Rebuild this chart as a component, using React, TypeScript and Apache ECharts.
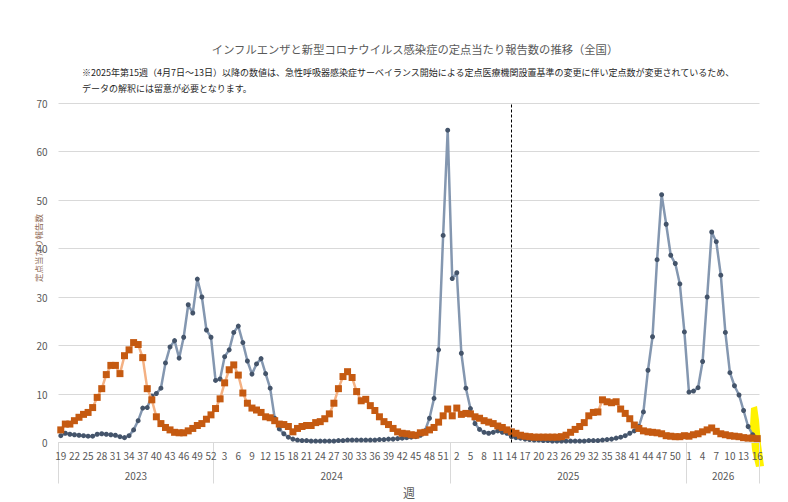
import React, { useEffect, useRef } from 'react';
import * as echarts from 'echarts';

// ---- data ----
const years = ['2023', '2024', '2025', '2026'];
const firstWeek = [19, 1, 1, 1];
const lastWeek = [52, 52, 52, 16];

// インフルエンザ (定点当たり報告数)
const influenza: (number | null)[] = [
  1.4, 1.9, 1.7, 1.6, 1.5, 1.4, 1.3, 1.3, 1.7, 1.8, 1.7, 1.6, 1.5, 1.2, 1.0, 1.4, 2.6, 4.5, 7.1, 7.2,
  9.6, 10.1, 11.2, 16.4, 19.7, 21.0, 17.4, 21.7, 28.4, 26.7, 33.7, 30.0, 23.2, 21.7,
  12.8, 13.1, 17.7, 19.1, 22.7, 24.0, 20.6, 16.8, 14.1, 16.2, 17.3, 14.2, 11.2, 5.0, 2.8, 1.8,
  1.1, 0.7, 0.5, 0.4, 0.4, 0.3, 0.3, 0.3, 0.3, 0.3, 0.3, 0.4, 0.4, 0.5, 0.5, 0.5, 0.5, 0.5,
  0.5, 0.5, 0.6, 0.6, 0.7, 0.7, 0.8, 0.9, 1.0, 1.1, 1.2, 1.5, 2.4, 5.0, 9.1, 19.1, 42.7, 64.4,
  33.8, 35.0, 18.4, 11.2, 7.0, 3.9, 2.7, 2.1, 1.9, 2.1, 2.4, 2.1, 1.9, 1.2, 1.0, 0.9, 0.7, 0.6,
  0.5, 0.5, 0.4, 0.4, 0.3, 0.3, 0.3, 0.3, 0.3, 0.3, 0.3, 0.3, 0.4, 0.4, 0.4, 0.5, 0.6, 0.7,
  0.9, 1.1, 1.4, 1.9, 2.4, 3.3, 6.3, 14.9, 21.8, 37.7, 51.1, 45.0, 38.6, 36.9, 32.7, 22.8,
  10.4, 10.6, 11.3, 16.7, 30.0, 43.4, 41.4, 34.5, 22.7, 14.4, 11.7, 9.8, 6.6, 3.3, 1.6, null,
];

// 新型コロナウイルス感染症 (定点当たり報告数)
const covid: number[] = [
  2.6, 3.8, 3.8, 4.5, 5.2, 5.8, 6.2, 7.2, 9.3, 11.1, 14.0, 15.9, 15.9, 14.2, 17.9, 19.1, 20.6, 20.2,
  17.5, 11.1, 8.8, 5.3, 3.9, 3.1, 2.6, 2.1, 2.0, 2.0, 2.4, 2.9, 3.5, 3.9, 4.8, 5.7,
  7.0, 9.0, 12.3, 15.0, 16.0, 13.9, 10.2, 8.1, 7.1, 6.7, 6.2, 5.3, 5.1, 4.5, 3.8, 3.7, 3.3, 2.2,
  2.9, 3.3, 3.5, 3.5, 4.1, 4.3, 4.9, 5.9, 8.1, 11.1, 13.6, 14.6, 13.4, 10.5, 8.6, 8.9, 7.6, 6.6,
  5.3, 4.3, 3.7, 2.9, 2.2, 1.9, 1.8, 1.6, 1.5, 2.0, 2.1, 2.6, 3.1, 4.2, 5.5, 6.9,
  5.5, 7.1, 5.8, 6.0, 5.9, 5.3, 5.0, 4.5, 4.2, 3.9, 3.4, 3.1, 2.6, 2.2, 1.9, 1.5, 1.3, 1.2,
  1.1, 1.1, 1.1, 1.1, 1.1, 1.1, 1.2, 1.5, 2.1, 2.7, 3.3, 4.1, 5.5, 6.2, 6.3, 8.8, 8.4, 8.2,
  8.4, 6.9, 6.0, 4.9, 3.6, 2.9, 2.4, 2.2, 2.1, 2.0, 1.8, 1.4, 1.3, 1.2, 1.2, 1.4,
  1.3, 1.6, 1.8, 2.2, 2.6, 3.0, 2.3, 1.8, 1.6, 1.4, 1.3, 1.2, 1.0, 0.9, 0.9, 0.8,
];

const yTicks = { min: 0, max: 70, interval: 10 };
const changeCategory = '2025/14';

const titleText = 'インフルエンザと新型コロナウイルス感染症の定点当たり報告数の推移（全国）';
const noteLine1 =
  '※2025年第15週（4月7日～13日）以降の数値は、急性呼吸器感染症サーベイランス開始による定点医療機関設置基準の変更に伴い定点数が変更されているため、';
const noteLine2 = 'データの解釈には留意が必要となります。';
const yAxisName = '定点当たり報告数';
const xAxisName = '週';

// ---- derived ----
const categories: string[] = [];
const groupBounds: number[] = [-0.5];
const groupCenters: number[] = [];
years.forEach((y, k) => {
  const start = categories.length;
  for (let w = firstWeek[k]; w <= lastWeek[k]; w++) categories.push(`${y}/${w}`);
  const end = categories.length - 1;
  groupBounds.push(end + 0.5);
  groupCenters.push((start + end) / 2);
});

const FONT = '"Noto Sans CJK JP", "Noto Sans", sans-serif';
const TXT = '#595959';

export default function App() {
  const ref = useRef<HTMLDivElement>(null);
  useEffect(() => {
    document.body.style.margin = '0';
    const chart = echarts.init(ref.current!, undefined, { renderer: 'svg' });
    chart.setOption({
      animation: false,
      backgroundColor: '#ffffff',
      textStyle: { fontFamily: FONT },
      title: {
        text: titleText,
        left: 410,
        textAlign: 'center',
        top: 38,
        textStyle: { fontSize: 11.3, fontWeight: 'normal', color: TXT, fontFamily: FONT },
      },
      grid: { left: 58.5, right: 28.5, top: 103, bottom: 59.5, outerBoundsMode: 'none' },
      xAxis: [
        {
          type: 'category',
          data: categories,
          boundaryGap: true,
          axisLine: { lineStyle: { color: '#d9d9d9', width: 1 } },
          axisTick: { show: false },
          axisLabel: {
            interval: 2,
            margin: 8,
            color: TXT,
            fontSize: 10,
            fontFamily: FONT,
            formatter: (v: string) => v.split('/')[1],
          },
          splitLine: { show: false },
          name: xAxisName,
          nameLocation: 'middle',
          nameGap: 44,
          nameTextStyle: { color: TXT, fontSize: 12, fontFamily: FONT },
        },
        {
          type: 'value',
          position: 'bottom',
          min: -0.5,
          max: categories.length - 0.5,
          axisLine: { show: false },
          splitLine: { show: false },
          axisTick: {
            show: true,
            customValues: groupBounds,
            length: 41,
            lineStyle: { color: '#d9d9d9', width: 1 },
          },
          axisLabel: {
            customValues: groupCenters,
            margin: 28,
            color: TXT,
            fontSize: 10,
            fontFamily: FONT,
            formatter: (v: number) => {
              const k = groupCenters.findIndex((c) => Math.abs(c - v) < 0.01);
              return k >= 0 ? years[k] : '';
            },
          },
        },
      ],
      yAxis: {
        type: 'value',
        min: yTicks.min,
        max: yTicks.max,
        interval: yTicks.interval,
        axisLine: { show: false },
        axisTick: { show: false },
        axisLabel: { color: TXT, fontSize: 10, margin: 11, fontFamily: FONT },
        splitLine: { lineStyle: { color: '#d9d9d9', width: 1 } },
      },
      graphic: [
        {
          type: 'text',
          left: 82,
          top: 68,
          style: { text: noteLine1, fill: '#262626', fontSize: 9, fontFamily: FONT },
        },
        {
          type: 'text',
          left: 82,
          top: 84,
          style: { text: noteLine2, fill: '#262626', fontSize: 9, fontFamily: FONT },
        },
        {
          type: 'text',
          x: 38,
          y: 248,
          rotation: Math.PI / 2,
          style: {
            text: yAxisName,
            fill: '#8f6c55',
            fontSize: 8.5,
            fontFamily: FONT,
            align: 'center',
            verticalAlign: 'middle',
          },
        },
        {
          type: 'polygon',
          z: -10,
          shape: {
            points: [
              [751, 408], [757, 406], [759, 420], [761, 444], [764, 466], [756, 467], [752, 450], [750, 426],
            ],
          },
          style: { fill: '#fff200' },
        },
      ],
      series: [
        {
          name: 'インフルエンザ',
          type: 'line',
          data: influenza,
          symbol: 'circle',
          symbolSize: 5,
          showAllSymbol: true,
          itemStyle: { color: '#44546a' },
          lineStyle: { color: '#8497b0', width: 2.5 },
          markLine: {
            silent: true,
            symbol: 'none',
            label: { show: false },
            lineStyle: { color: '#000000', type: [3, 2], width: 1 },
            data: [{ xAxis: changeCategory }],
          },
          z: 2,
        },
        {
          name: '新型コロナウイルス感染症',
          type: 'line',
          data: covid,
          symbol: 'rect',
          symbolSize: 7,
          showAllSymbol: true,
          itemStyle: { color: '#c55a11' },
          lineStyle: { color: '#f4b183', width: 2.5 },
          z: 3,
        },
      ],
    });
    return () => chart.dispose();
  }, []);
  return <div ref={ref} style={{ width: 788, height: 502 }} />;
}
